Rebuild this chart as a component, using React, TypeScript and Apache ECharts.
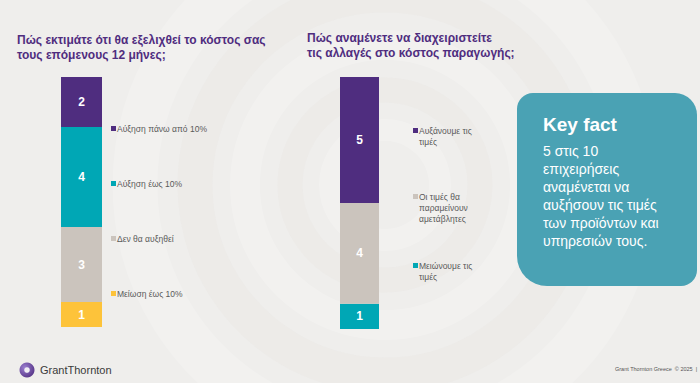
import React, { useEffect, useRef } from "react";
import * as echarts from "echarts";

const titleLeft = ["Πώς εκτιμάτε ότι θα εξελιχθεί το κόστος σας", "τους επόμενους 12 μήνες;"];
const titleRight = ["Πώς αναμένετε να διαχειριστείτε", "τις αλλαγές στο κόστος παραγωγής;"];

// left chart (bottom -> top)
const leftNames = ["Μείωση έως 10%", "Δεν θα αυξηθεί", "Αύξηση έως 10%", "Αύξηση πάνω από 10%"];
const leftValues = [1, 3, 4, 2];
const leftColors = ["#fdc33a", "#cbc4bd", "#00a7b5", "#4f2d7f"];

// right chart (bottom -> top)
const rightNames = ["Μειώνουμε τις τιμές", "Οι τιμές θα παραμείνουν αμετάβλητες", "Αυξάνουμε τις τιμές"];
const rightLegendLines = [["Μειώνουμε τις", "τιμές"], ["Οι τιμές θα", "παραμείνουν", "αμετάβλητες"], ["Αυξάνουμε τις", "τιμές"]];
const rightValues = [1, 4, 5];
const rightColors = ["#00a7b5", "#cbc4bd", "#4f2d7f"];

const keyFactTitle = "Key fact";
const keyFactLines = ["5 στις 10", "επιχειρήσεις", "αναμένεται να", "αυξήσουν τις τιμές", "των προϊόντων και", "υπηρεσιών τους."];

const FONT = "'Liberation Sans', Arial, sans-serif";
const PURPLE = "#4f2d7f";

export default function App() {
  const ref = useRef<HTMLDivElement>(null);
  useEffect(() => {
    if (!ref.current) return;
    const chart = echarts.init(ref.current, null, { renderer: "svg" });

    const mkSeries = (names: string[], values: number[], colors: string[], idx: number) =>
      names.map((n, i) => ({
        type: "bar",
        name: n,
        stack: "s" + idx,
        xAxisIndex: idx,
        yAxisIndex: idx,
        barWidth: "100%",
        data: [values[i]],
        itemStyle: { color: colors[i] },
        label: {
          show: true,
          position: "inside",
          color: "#ffffff",
          fontWeight: "bold",
          fontSize: 12,
          fontFamily: FONT,
        },
      }));

    const graphics: any[] = [];
    // subtle background rings
    const rings = [
      { r: 250, c: "rgba(255,255,255,0.18)", w: 45 },
      { r: 190, c: "rgba(225,222,218,0.18)", w: 35 },
      { r: 140, c: "rgba(255,255,255,0.2)", w: 30 },
      { r: 95, c: "rgba(225,222,218,0.18)", w: 25 },
      { r: 55, c: "rgba(255,255,255,0.2)", w: 22 },
    ];
    rings.forEach((rg) =>
      graphics.push({
        type: "circle",
        shape: { cx: 385, cy: 185, r: rg.r },
        style: { fill: "none", stroke: rg.c, lineWidth: rg.w },
        silent: true,
        z: -10,
      })
    );
    // titles
    titleLeft.forEach((t, i) =>
      graphics.push({
        type: "text",
        x: 17,
        y: 40 + i * 15,
        style: { text: t, fill: PURPLE, font: `bold 12px ${FONT}`, verticalAlign: "middle" },
      })
    );
    titleRight.forEach((t, i) =>
      graphics.push({
        type: "text",
        x: 307,
        y: 38 + i * 15,
        style: { text: t, fill: PURPLE, font: `bold 12px ${FONT}`, verticalAlign: "middle" },
      })
    );
    // left legends (top -> bottom)
    const leftLegendY = [129, 184, 239, 294];
    for (let k = 0; k < 4; k++) {
      const i = 3 - k;
      graphics.push({
        type: "rect",
        shape: { x: 111, y: leftLegendY[k] - 3, width: 5, height: 5 },
        style: { fill: leftColors[i] },
      });
      graphics.push({
        type: "text",
        x: 117,
        y: leftLegendY[k],
        style: { text: leftNames[i], fill: "#5a5a5a", font: `8.5px ${FONT}`, verticalAlign: "middle" },
      });
    }
    // right legends
    const rightLegendY = [131, 197, 266];
    for (let k = 0; k < 3; k++) {
      const i = 2 - k;
      graphics.push({
        type: "rect",
        shape: { x: 413, y: rightLegendY[k] - 3, width: 5, height: 5 },
        style: { fill: rightColors[i] },
      });
      rightLegendLines[i].forEach((ln, j) =>
        graphics.push({
          type: "text",
          x: 419,
          y: rightLegendY[k] + j * 11,
          style: { text: ln, fill: "#5a5a5a", font: `8.5px ${FONT}`, verticalAlign: "middle" },
        })
      );
    }
    // key fact box
    graphics.push({
      type: "rect",
      shape: { x: 517, y: 93, width: 180, height: 193, r: [16, 22, 16, 30] },
      style: { fill: "#4aa2b4" },
    });
    graphics.push({
      type: "text",
      x: 543,
      y: 124,
      style: { text: keyFactTitle, fill: "#ffffff", font: `bold 19px ${FONT}`, verticalAlign: "middle" },
    });
    keyFactLines.forEach((t, i) =>
      graphics.push({
        type: "text",
        x: 543,
        y: 151 + i * 18,
        style: { text: t, fill: "#ffffff", font: `14px ${FONT}`, verticalAlign: "middle" },
      })
    );
    // logo
    graphics.push({
      type: "circle",
      shape: { cx: 27, cy: 370, r: 7.5 },
      style: {
        fill: new echarts.graphic.RadialGradient(0.35, 0.35, 0.8, [
          { offset: 0, color: "#9b7fd0" },
          { offset: 1, color: "#4f2d7f" },
        ]),
      },
    });
    graphics.push({
      type: "circle",
      shape: { cx: 27, cy: 370, r: 2.8 },
      style: { fill: "#f0eef5" },
    });
    graphics.push({
      type: "text",
      x: 40,
      y: 370,
      style: { text: "GrantThornton", fill: "#3a3a3a", font: `11px ${FONT}`, verticalAlign: "middle" },
    });
    graphics.push({
      type: "text",
      x: 615,
      y: 369,
      style: { text: "Grant Thornton Greece  © 2025  |", fill: "#555555", font: `5.5px ${FONT}`, verticalAlign: "middle" },
    });

    chart.setOption({
      animation: false,
      backgroundColor: "#efeeec",
      grid: [
        { left: 61, width: 41, top: 77, height: 250 },
        { left: 340, width: 39, top: 77, height: 252 },
      ],
      xAxis: [
        { type: "category", gridIndex: 0, data: ["a"], show: false },
        { type: "category", gridIndex: 1, data: ["b"], show: false },
      ],
      yAxis: [
        { type: "value", gridIndex: 0, min: 0, max: 10, show: false },
        { type: "value", gridIndex: 1, min: 0, max: 10, show: false },
      ],
      series: [
        ...mkSeries(leftNames, leftValues, leftColors, 0),
        ...mkSeries(rightNames, rightValues, rightColors, 1),
      ],
      graphic: graphics,
    });
    return () => chart.dispose();
  }, []);
  return (
    <div
      ref={ref}
      style={{ position: "absolute", left: 0, top: 0, width: 700, height: 383 }}
    />
  );
}
